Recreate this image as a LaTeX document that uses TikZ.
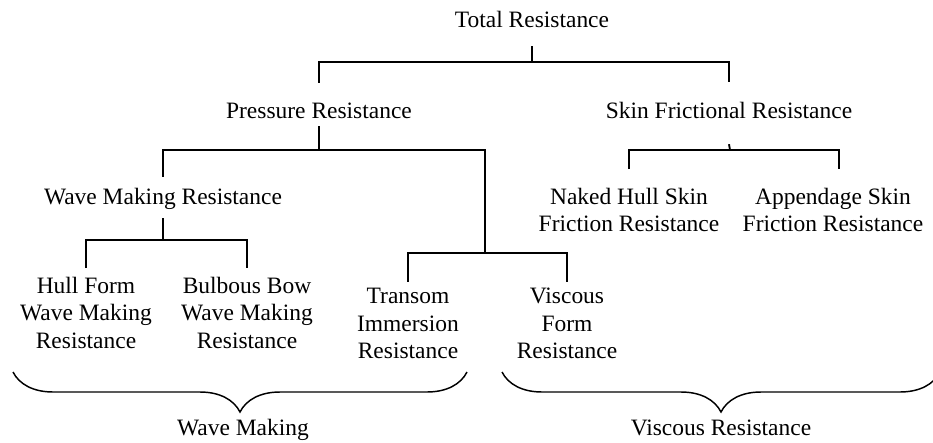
\documentclass[tikz,border=0pt]{standalone}
\usepackage{fontspec}
\setmainfont{Liberation Serif}
\usetikzlibrary{decorations.pathreplacing}
\tikzset{restree/.style={x=0.75pt,y=-0.75pt,line width=1.4pt},
  lbl/.style={font=\fontsize{17.6pt}{20.8pt}\selectfont,align=center,inner sep=0pt},
  brc/.style={line width=1.1pt,decorate,decoration={brace,mirror,amplitude=30pt}}}
\begin{document}
\begin{tikzpicture}[restree]
    \clip (0,0) rectangle (933,443);
    % first two levels
    \node[lbl,anchor=base] (total) at (532,27) {Total Resistance};
    \node[lbl,anchor=base] (pres) at (319,118) {Pressure Resistance};
    \node[lbl,anchor=base] (skin) at (729,118) {Skin Frictional Resistance};
    \node[lbl,anchor=base] (wave) at (163,204) {Wave Making Resistance};
    % leaves
    \node[lbl,anchor=north] (hull) at (86,276) {Hull Form\\Wave Making\\Resistance};
    \node[lbl,anchor=north] (bulb) at (247,276) {Bulbous Bow\\Wave Making\\Resistance};
    \node[lbl,anchor=north] (transom) at (408,287) {Transom\\Immersion\\Resistance};
    \node[lbl,anchor=north] (visc) at (567,287) {Viscous\\Form\\Resistance};
    \node[lbl,anchor=north] (naked) at (629,187) {Naked Hull Skin\\Friction Resistance};
    \node[lbl,anchor=north] (app) at (833,187) {Appendage Skin\\Friction Resistance};
    \coordinate (b0) at (532,62);
    \coordinate (b1) at (319,150);
    \coordinate (b2) at (485,253);
    \coordinate (b3) at (163,240);
    \coordinate (b4) at (730,150);
    \draw ([yshift=-13.5pt]total.south) -- (b0);
    \draw ([yshift=14.25pt]pres.north) |- (b0) -| ([yshift=14.25pt]skin.north);
    \draw ([yshift=-5.25pt]pres.south) -- (b1);
    \draw ([yshift=7.5pt]wave.north) |- (b1) -| (b2);
    \draw ([yshift=4pt]transom.north) |- (b2) -| ([yshift=3.4pt]visc.north);
    \draw ([yshift=-6pt]wave.south) -- (b3);
    \draw ([yshift=6pt]hull.north) |- (b3) -| ([yshift=6pt]bulb.north);
    \draw ([yshift=-18.75pt]skin.south) -- (b4);
    \draw ([yshift=13.5pt]naked.north) |- (b4) -| ([xshift=4.5pt,yshift=13.5pt]app.north);
    % groups
    \draw[brc] (13,372) -- (467,372);
    \draw[brc] (502,372) -- (940,372);
    \node[lbl,anchor=base] (wml) at (243,435) {Wave Making};
    \node[lbl,anchor=base] (vrl) at (721,435) {Viscous Resistance};
  \end{tikzpicture}
\end{document}
